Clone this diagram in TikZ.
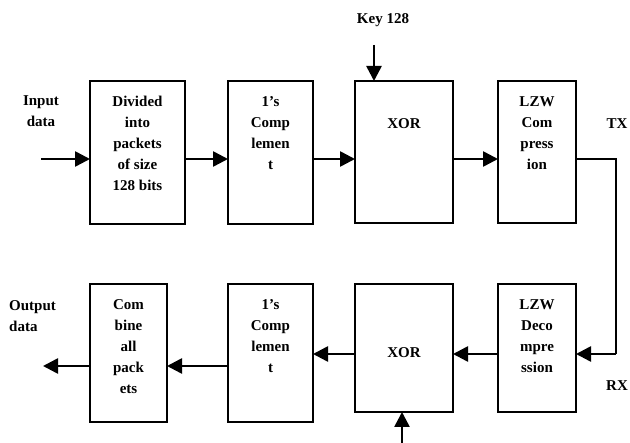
\documentclass[tikz,border=0pt]{standalone}
\usepackage{fontspec}
\setmainfont{Liberation Serif}
\usetikzlibrary{arrows.meta,calc}
\begin{document}
\begin{tikzpicture}[x=1pt,y=-1pt,
  blk/.style={draw,line width=1.8pt,inner sep=0,outer sep=0,minimum height=#1},
  txt/.style={font=\bfseries\fontsize{15}{21}\selectfont,align=center,inner sep=0,anchor=north},
  lbl/.style={font=\bfseries\fontsize{15}{21}\selectfont,inner sep=0},
  arr/.style={line width=2.6pt,-{Triangle[length=15pt,width=15pt]}},
  con/.style={line width=2pt}]
\fill[white] (0,0) rectangle (630,443);
\useasboundingbox (0,0) rectangle (630,443);
% top row
\node[blk=143pt,minimum width=95pt] (b1) at (137.5,152.5) {};
\node[blk=143pt,minimum width=85pt] (b2) at (270.5,152.5) {};
\node[blk=142pt,minimum width=98pt] (b3) at (404,152) {};
\node[blk=142pt,minimum width=78pt] (b4) at (537,152) {};
% bottom row
\node[blk=138pt,minimum width=77pt] (c1) at (128.5,353) {};
\node[blk=138pt,minimum width=85pt] (c2) at (270.5,353) {};
\node[blk=128pt,minimum width=98pt] (c3) at (404,348) {};
\node[blk=128pt,minimum width=78pt] (c4) at (537,348) {};
% texts
\node[txt] (t1) at ($(b1.north)+(0,14.5)$) {Divided\\into\\packets\\of size\\128 bits};
\node[txt] (t2) at ($(b2.north)+(0,15)$) {1’s\\Comp\\lemen\\t};
\node[txt] (t3) at ($(b3.north)+(0,37)$) {XOR};
\node[txt] (t4) at ($(b4.north)+(0,15)$) {LZW\\Com\\press\\ion};
\node[txt] (u1) at ($(c1.north)+(0,15)$) {Com\\bine\\all\\pack\\ets};
\node[txt] (u2) at ($(c2.north)+(0,15)$) {1’s\\Comp\\lemen\\t};
\node[txt] (u3) at ($(c3.north)+(0,63)$) {XOR};
\node[txt] (u4) at ($(c4.north)+(0,15)$) {LZW\\Deco\\mpre\\ssion};
% labels
\node[lbl,align=center,anchor=north] (lin) at (41,95) {Input\\data};
\node[lbl,align=left,anchor=north west] (lout) at (9,300) {Output\\data};
\node[lbl] (lkey) at (383,20) {Key 128};
\node[lbl] (ltx) at (617,124) {TX};
\node[lbl] (lrx) at (617,386) {RX};
% connectors
\coordinate (r1) at (0,159);
\coordinate (r2) at (0,354);
\coordinate (r3) at (0,366);
\coordinate (in) at (41,159);
\coordinate (out) at (43,366);
\coordinate (k1) at (374,45);
\coordinate (k2) at (402,443);
\coordinate (tr) at (616,159);
\draw[arr] (in) -- (b1.west |- in);
\draw[arr] (b1.east |- r1) -- (b2.west |- r1);
\draw[arr] (b2.east |- r1) -- (b3.west |- r1);
\draw[arr] (b3.east |- r1) -- (b4.west |- r1);
\draw[arr] (k1) -- (b3.north -| k1);
\draw[con] (b4.east |- r1) -- (tr) -- (tr |- r2);
\draw[arr] (tr |- r2) -- (c4.east |- r2);
\draw[arr] (c4.west |- r2) -- (c3.east |- r2);
\draw[arr] (c3.west |- r2) -- (c2.east |- r2);
\draw[arr] (c2.west |- r3) -- (c1.east |- r3);
\draw[arr] (c1.west |- r3) -- (out);
\draw[arr] (k2) -- (c3.south -| k2);
\end{tikzpicture}
\end{document}
